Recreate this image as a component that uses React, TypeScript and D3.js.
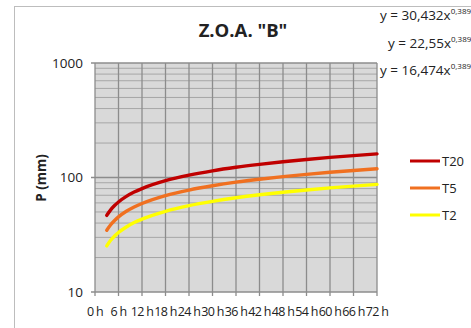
import React from "react";
import * as d3 from "d3";

// hours (x) and P in mm
const hours = [3, 4, 5, 6, 8, 10, 12, 18, 24, 30, 36, 42, 48, 54, 60, 66, 72];
const t20 = [46.7, 52.2, 56.9, 61.1, 68.4, 74.6, 80.0, 93.7, 104.8, 114.4, 122.8, 130.3, 137.3, 143.7, 149.8, 155.4, 160.8];
const t5 = [34.6, 38.7, 42.1, 45.3, 50.7, 55.3, 59.3, 69.5, 77.7, 84.7, 91.0, 96.6, 101.7, 106.5, 111.0, 115.2, 119.1];
const t2 = [25.3, 28.3, 30.8, 33.1, 37.0, 40.4, 43.3, 50.7, 56.8, 61.9, 66.5, 70.6, 74.3, 77.8, 81.1, 84.1, 87.0];

const xTicks = [0, 6, 12, 18, 24, 30, 36, 42, 48, 54, 60, 66, 72];
const yTicks = [10, 100, 1000];
const yMinor = [20, 30, 40, 50, 60, 70, 80, 90, 200, 300, 400, 500, 600, 700, 800, 900];

const series = [
  { name: "T20", values: t20, color: "#c00000", coef: "30,432" },
  { name: "T5", values: t5, color: "#f07020", coef: "22,55" },
  { name: "T2", values: t2, color: "#ffff00", coef: "16,474" },
];
const exponent = "0,3892";

const W = 471;
const H = 328;
const m = { left: 95, right: 377, top: 63, bottom: 292 };
const font = "Open Sans, Lato, sans-serif";

export default function App() {
  const x = d3.scaleLinear().domain([0, 72]).range([m.left, m.right]);
  const y = d3.scaleLog().domain([10, 1000]).range([m.bottom, m.top]);

  const line = d3
    .line<number>()
    .x((_, i) => x(hours[i]))
    .y((d) => y(d))
    .curve(d3.curveMonotoneX);

  return (
    <svg
      width={W}
      height={H}
      style={{ position: "absolute", left: 0, top: 0, background: "#fff" }}
      fontFamily={font}
    >
      <rect x={14.5} y={6.5} width={600} height={400} fill="#fff" stroke="#bdbdbd" />

      <rect
        x={m.left}
        y={m.top}
        width={m.right - m.left}
        height={m.bottom - m.top}
        fill="#d9d9d9"
      />
      {yMinor.map((v) => (
        <line key={"mn" + v} x1={m.left} x2={m.right} y1={y(v)} y2={y(v)} stroke="#a6a6a6" strokeWidth={1} />
      ))}
      {xTicks.map((t) => (
        <line key={"vx" + t} x1={x(t)} x2={x(t)} y1={m.top} y2={m.bottom + 4} stroke="#8c8c8c" strokeWidth={1.3} />
      ))}
      {yTicks.map((t) => (
        <line key={"hy" + t} x1={m.left - 4} x2={m.right} y1={y(t)} y2={y(t)} stroke="#8c8c8c" strokeWidth={1.3} />
      ))}

      {series.map((s) => (
        <path
          key={s.name}
          d={line(s.values) || ""}
          fill="none"
          stroke={s.color}
          strokeWidth={3.4}
          strokeLinecap="round"
        />
      ))}

      {yTicks.map((t) => (
        <text key={"yl" + t} x={83} y={y(t)} dy="0.35em" textAnchor="end" fontSize={13.5} fill="#222">
          {t}
        </text>
      ))}
      {xTicks.map((t) => (
        <text key={"xl" + t} x={x(t)} y={316} textAnchor="middle" fontSize={12.5} fill="#222" letterSpacing={-0.7}>
          {t} h
        </text>
      ))}

      <text x={243} y={37} textAnchor="middle" fontSize={18.5} fontWeight="bold" fill="#222">
        Z.O.A. "B"
      </text>
      <text
        transform={`translate(46,178) rotate(-90)`}
        textAnchor="middle"
        fontSize={13.5}
        fontWeight="bold"
        fill="#222"
      >
        P (mm)
      </text>

      {series.map((s, i) => (
        <text key={"eq" + s.name} x={[380, 388, 380][i]} y={[20, 48, 75][i]} fontSize={13.5} fill="#222">
          y = {s.coef}x
          <tspan fontSize={8} dy={-6}>
            {exponent}
          </tspan>
        </text>
      ))}

      {series.map((s, i) => {
        const ly = 161 + i * 27;
        return (
          <g key={"lg" + s.name}>
            <line x1={410} x2={440} y1={ly} y2={ly} stroke={s.color} strokeWidth={3} />
            <text x={442} y={ly} dy="0.35em" fontSize={13} fill="#222">
              {s.name}
            </text>
          </g>
        );
      })}
    </svg>
  );
}
